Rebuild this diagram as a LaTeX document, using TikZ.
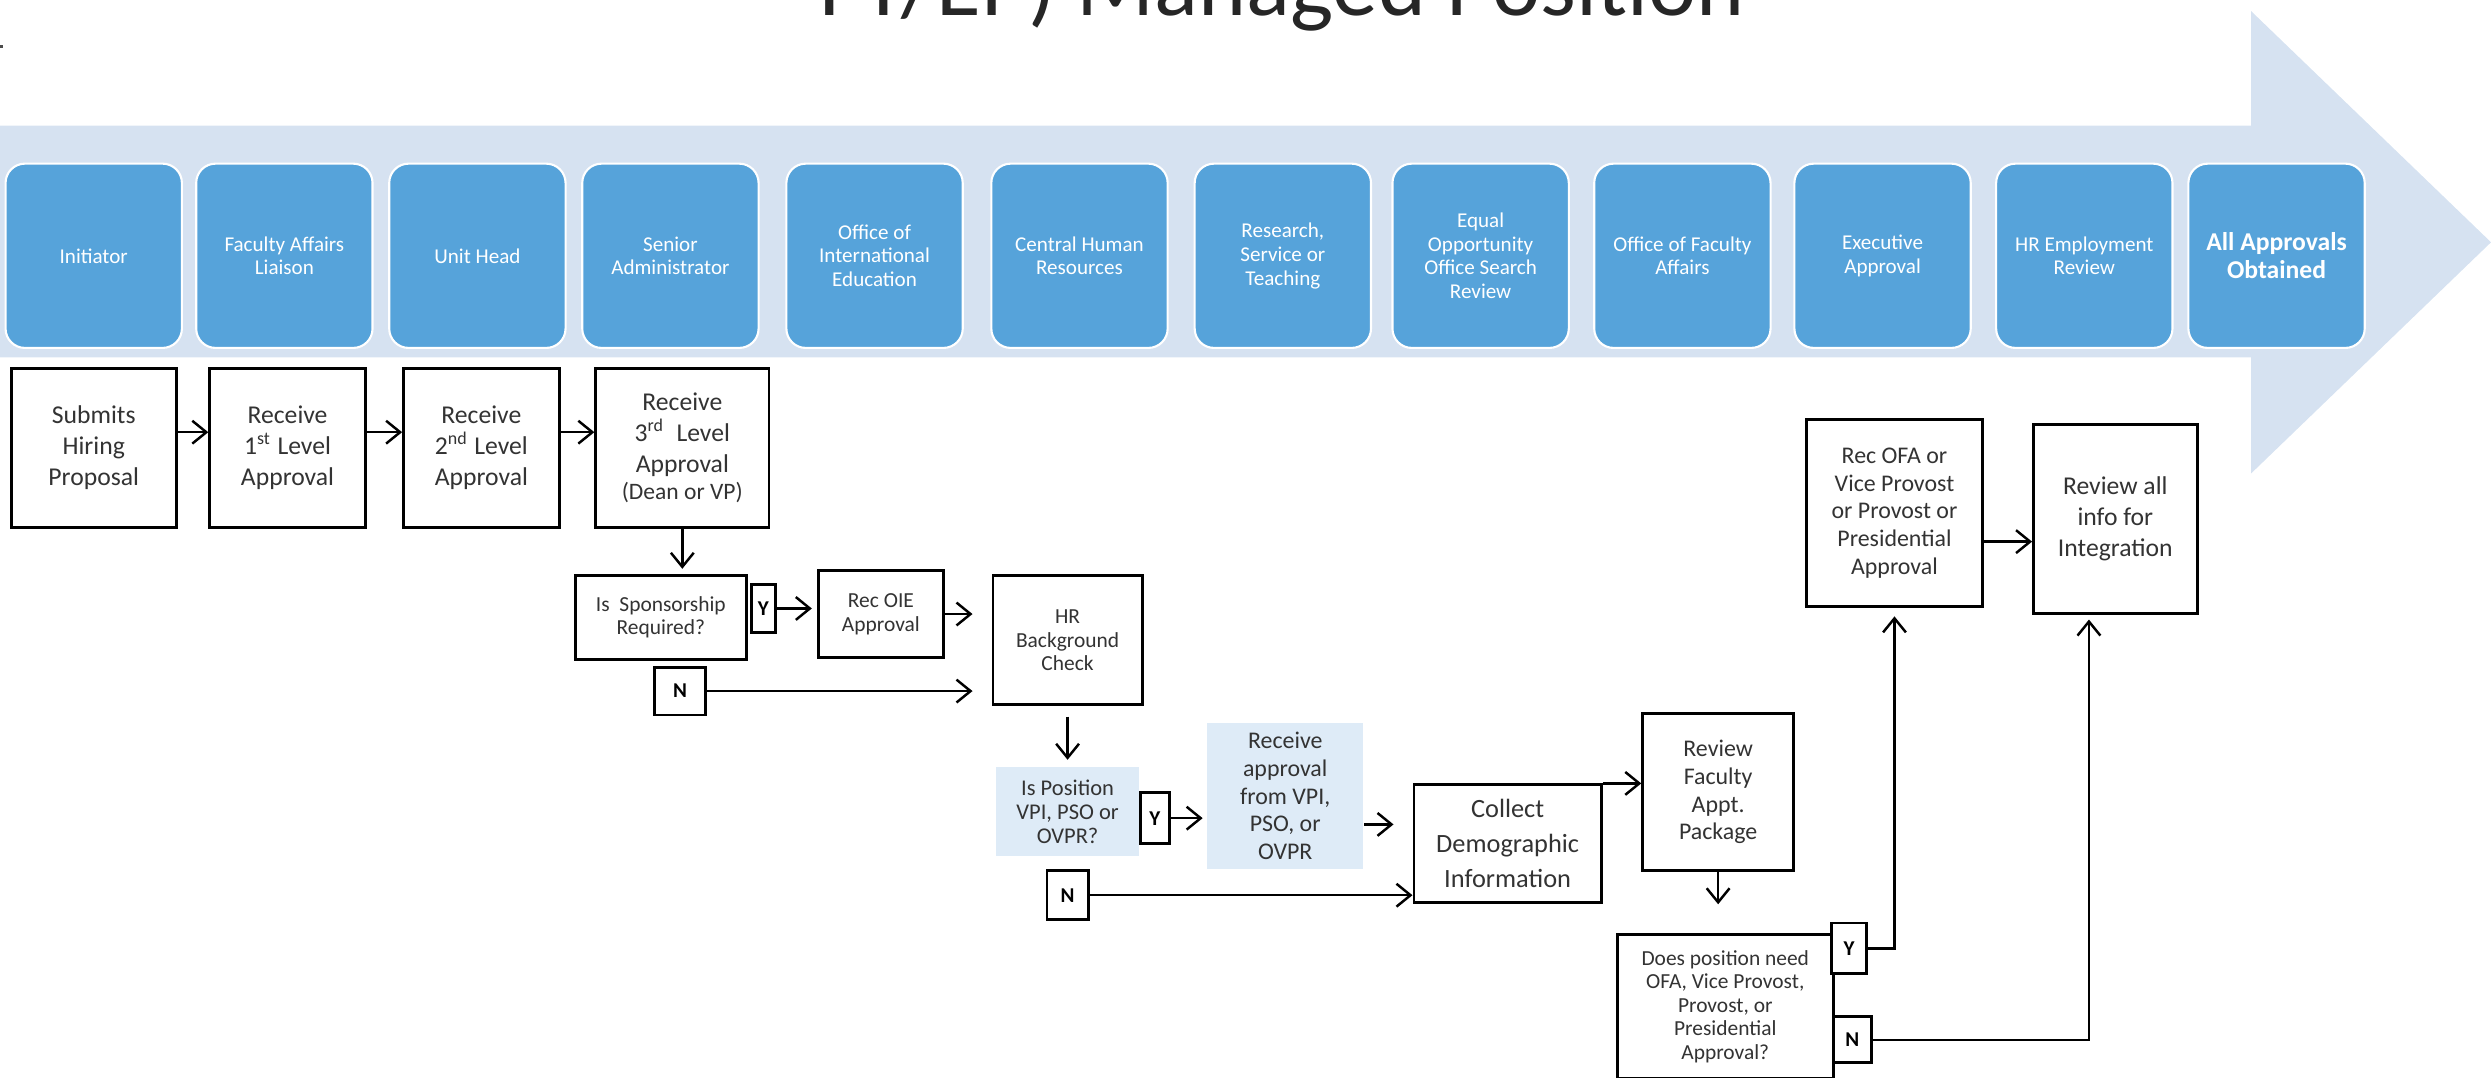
\documentclass[tikz,border=0pt]{standalone}
\usepackage{fontspec}
\setmainfont{Carlito}
\usetikzlibrary{arrows.meta}

\definecolor{bandblue}{RGB}{214,226,241}
\definecolor{lanefill}{RGB}{86,163,218}
\definecolor{paleblue}{RGB}{222,235,247}
\newcommand{\unitpx}{0.01589cm}

\begin{document}
\begin{tikzpicture}[
    x = 0.01589cm, y = -0.01589cm,
    line width = 0.7pt,
    >= {Straight Barb[length = 4pt, width = 6.5pt]},
    lane/.style = {rectangle,
      rounded corners = 5.5pt,
      fill = lanefill, draw = white, line width = 0.6pt,
      text = white, align = center, inner sep = 0pt,
      minimum width = 111*\unitpx, minimum height = 116*\unitpx,
      font = \fontsize{6}{6.8}\selectfont},
    stepbox/.style 2 args = {rectangle,
      draw, fill = white, line width = 0.8pt,
      text = black!80, align = center, inner sep = 0pt,
      minimum width = #1*\unitpx, minimum height = #2*\unitpx},
    palebox/.style 2 args = {rectangle,
      fill = paleblue,
      text = black!80, align = center, inner sep = 0pt,
      minimum width = #1*\unitpx, minimum height = #2*\unitpx},
    answer/.style 2 args = {stepbox = {#1}{#2},
      text = black, font = \bfseries\fontsize{6}{7}\selectfont},
    bigtext/.style = {font = \fontsize{7.3}{8.8}\selectfont},
    midtext/.style = {font = \fontsize{6.8}{7.9}\selectfont},
    smalltext/.style = {font = \fontsize{6.1}{6.7}\selectfont}
  ]

  \useasboundingbox (0, 0) rectangle (1568, 678);

  % background arrow
  \fill [bandblue] (0, 79) -- (1417, 79) -- (1417, 7) -- (1568, 152.5)
    -- (1417, 298) -- (1417, 225) -- (0, 225) -- cycle;
  \fill [black!70] (0, 28.5) rectangle (2, 30.5);

  \node at (807, 10) [anchor = base, text = black!85,
    font = \fontsize{26}{30}\selectfont, name = title] {FT/EP) Managed Position};

  % lanes
  \node at (59, 161) [lane, name = initiator] {Initiator};
  \node at (179, 161) [lane, name = liaison] {Faculty Affairs\\Liaison};
  \node at (300.5, 161) [lane, name = unithead] {Unit Head};
  \node at (422, 161) [lane, name = senior] {Senior\\Administrator};
  \node at (550.5, 161) [lane, name = oie] {Office of\\International\\Education};
  \node at (679.5, 161) [lane, name = centralhr] {Central Human\\Resources};
  \node at (807.5, 161) [lane, name = rst] {Research,\\Service or\\Teaching};
  \node at (932, 161) [lane, name = eoo] {Equal\\Opportunity\\Office Search\\Review};
  \node at (1059, 161) [lane, name = ofa] {Office of Faculty\\Affairs};
  \node at (1185, 161) [lane, name = exec] {Executive\\Approval};
  \node at (1312, 161) [lane, name = hremp] {HR Employment\\Review};
  \node at (1433, 161) [lane, name = allapp,
    font = \bfseries\fontsize{7.3}{7.8}\selectfont] {All Approvals\\Obtained};

  % steps
  \node at (59, 282) [stepbox = {104}{100}, bigtext, name = submit] {Submits\\Hiring\\Proposal};
  \node at (181, 282) [stepbox = {98}{100}, bigtext, name = first] {Receive\\1\textsuperscript{st} Level\\Approval};
  \node at (303, 282) [stepbox = {98}{100}, bigtext, name = second] {Receive\\2\textsuperscript{nd} Level\\Approval};
  \node at (429.5, 282) [stepbox = {109}{100}, bigtext, name = third]
    {Receive\\3\textsuperscript{rd}\ \ Level\\Approval\\[-1.2pt]{\fontsize{6.7}{7.5}\selectfont(Dean or VP)}};

  \node at (416, 388.5) [stepbox = {108}{53}, smalltext, name = sponsor] {Is\ \ Sponsorship\\Required?};
  \node at (480.5, 383) [answer = {15}{30}, name = ysponsor] {Y};
  \node at (554.5, 386.5) [stepbox = {79}{55}, smalltext, name = recoie] {Rec OIE\\Approval};
  \node at (672, 403) [stepbox = {94}{81}, smalltext, name = hrcheck] {HR\\Background\\Check};
  \node at (428, 435) [answer = {32}{30}, name = nsponsor] {N};

  \node at (672, 511) [palebox = {90}{56}, font = \fontsize{6.4}{6.9}\selectfont, name = position]
    {Is Position\\VPI, PSO or\\OVPR?};
  \node at (727, 515) [answer = {18}{32}, name = yposition] {Y};
  \node at (809, 501) [palebox = {98}{92}, midtext, name = vpiapproval]
    {Receive\\approval\\from VPI,\\PSO, or\\OVPR};
  \node at (949, 531) [stepbox = {118}{74}, font = \fontsize{7.5}{10}\selectfont, name = collect]
    {Collect\\Demographic\\Information};
  \node at (672, 563.5) [answer = {26}{31}, name = nposition] {N};

  \node at (1081.5, 498.5) [stepbox = {95}{99}, midtext, name = review] {Review\\Faculty\\Appt.\\Package};
  \node at (1086, 633.5) [stepbox = {136}{91}, smalltext, name = decide]
    {Does position need\\OFA, Vice Provost,\\Provost, or\\Presidential\\Approval?};
  \node at (1164, 597) [answer = {22}{32}, name = ydecide] {Y};
  \node at (1166, 654.5) [answer = {24}{29}, name = ndecide] {N};

  \node at (1192.5, 323) [stepbox = {111}{118}, midtext, name = recofa]
    {Rec OFA or\\Vice Provost\\or Provost or\\Presidential\\Approval};
  \node at (1331.5, 326.5) [stepbox = {103}{119}, bigtext, name = reviewall]
    {Review all\\info for\\Integration};

  % connectors
  \draw [->] ([yshift = 4.5pt]submit.east) to ([yshift = 4.5pt]first.west);
  \draw [->] ([yshift = 4.5pt]first.east) to ([yshift = 4.5pt]second.west);
  \draw [->] ([yshift = 4.5pt]second.east) to ([yshift = 4.5pt]third.west);
  \draw [->, shorten > = 1.4pt] (third.south) to (third.south |- sponsor.north);

  \draw [->, shorten > = 1.4pt] (ysponsor.east) to (ysponsor.east -| recoie.west);
  \draw [->, shorten > = 5.4pt] (recoie.east) to (recoie.east -| hrcheck.west);
  \draw [->, shorten > = 5.4pt] (nsponsor.east) to (nsponsor.east -| hrcheck.west);
  \draw [->, shorten < = 3pt, shorten > = 1.8pt] (hrcheck.south) to (hrcheck.south |- position.north);

  \draw [->, shorten > = 1pt] (yposition.east) to (yposition.east -| vpiapproval.west);
  \coordinate (vpiout) at ([yshift = -8.1pt]vpiapproval.east);
  \draw [->, shorten > = 5.4pt] (vpiout) to (vpiout -| collect.west);
  \draw [->] (nposition.east) to (nposition.east -| collect.west);
  \draw [->] (collect.north east) to (collect.north east -| review.west);
  \draw [->, shorten > = 8.1pt] (review.south) to (review.south |- decide.north);

  \draw [->, shorten > = 2.3pt] (ydecide.east) -| (recofa.south);
  \coordinate (allin) at ([xshift = -7.5pt]reviewall.south);
  \draw [->, shorten > = 1.4pt] (ndecide.east) -| (allin);
  \coordinate (ofaout) at ([yshift = -8.1pt]recofa.east);
  \draw [->] (ofaout) to (ofaout -| reviewall.west);
\end{tikzpicture}
\end{document}
